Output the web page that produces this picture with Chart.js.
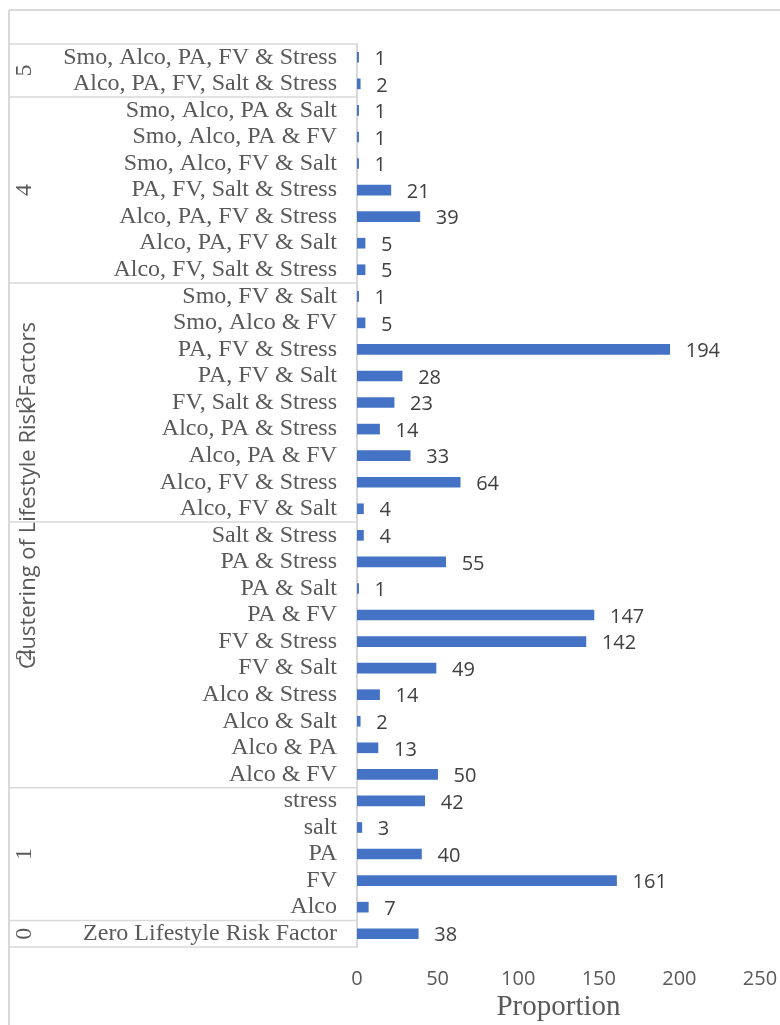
<!DOCTYPE html>
<html>
<head>
<meta charset="utf-8">
<script src="https://cdn.jsdelivr.net/npm/chart.js@4.4.1/dist/chart.umd.min.js"></script>
<style>
  html, body { margin: 0; padding: 0; background: #fff; }
  #wrap { width: 780px; height: 1025px; }
</style>
</head>
<body>
<div id="wrap"><canvas id="chart" width="780" height="1025"></canvas></div>
<script>
// categories, top to bottom
var labels = [
  "Smo, Alco, PA, FV & Stress", "Alco, PA, FV, Salt & Stress",
  "Smo, Alco, PA & Salt", "Smo, Alco, PA & FV", "Smo, Alco, FV & Salt",
  "PA, FV, Salt & Stress", "Alco, PA, FV & Stress", "Alco, PA, FV & Salt",
  "Alco, FV, Salt & Stress",
  "Smo, FV & Salt", "Smo, Alco & FV", "PA, FV & Stress", "PA, FV & Salt",
  "FV, Salt & Stress", "Alco, PA & Stress", "Alco, PA & FV", "Alco, FV & Stress",
  "Alco, FV & Salt",
  "Salt & Stress", "PA & Stress", "PA & Salt", "PA & FV", "FV & Stress",
  "FV & Salt", "Alco & Stress", "Alco & Salt", "Alco & PA", "Alco & FV",
  "stress", "salt", "PA", "FV", "Alco",
  "Zero Lifestyle Risk Factor"
];

var values = [
  1, 2,
  1, 1, 1, 21, 39, 5, 5,
  1, 5, 194, 28, 23, 14, 33, 64, 4,
  4, 55, 1, 147, 142, 49, 14, 2, 13, 50,
  42, 3, 40, 161, 7,
  38
];

// group names and how many categories each holds
var groupNames = ["5", "4", "3", "2", "1", "0"];
var groupSizes = [2, 7, 9, 10, 5, 1];

var xTicks = [0, 50, 100, 150, 200, 250];

var textColor = "#595959";
var lineColor = "#d9d9d9";

// outer frame and group boxes on the left
var groupPlugin = {
  id: "groups",
  afterDraw: function (chart) {
    var ctx = chart.ctx;
    var y = chart.scales.y;
    var area = chart.chartArea;
    ctx.save();
    ctx.strokeStyle = lineColor;
    ctx.lineWidth = 2;
    ctx.beginPath();
    ctx.moveTo(9, 10);
    ctx.lineTo(780, 10);
    ctx.moveTo(9, 10);
    ctx.lineTo(9, 1025);
    ctx.stroke();

    var half = (y.getPixelForValue(1) - y.getPixelForValue(0)) / 2;
    var start = 0;
    ctx.lineWidth = 1.5;
    ctx.beginPath();
    ctx.moveTo(9, area.top);
    ctx.lineTo(area.left, area.top);
    for (var g = 0; g < groupSizes.length; g++) {
      var end = start + groupSizes[g] - 1;
      var yb = y.getPixelForValue(end) + half;
      ctx.moveTo(9, yb);
      ctx.lineTo(area.left, yb);
      start = end + 1;
    }
    ctx.stroke();

    ctx.fillStyle = textColor;
    ctx.font = "24px 'Liberation Serif'";
    ctx.textAlign = "center";
    ctx.textBaseline = "middle";
    start = 0;
    for (var g = 0; g < groupSizes.length; g++) {
      var end = start + groupSizes[g] - 1;
      var yc = (y.getPixelForValue(start) + y.getPixelForValue(end)) / 2;
      ctx.save();
      ctx.translate(25, yc);
      ctx.rotate(-Math.PI / 2);
      ctx.fillText(groupNames[g], 0, 0);
      ctx.restore();
      start = end + 1;
    }
    ctx.restore();
  }
};

// value labels at the end of each bar
var valuePlugin = {
  id: "values",
  afterDatasetsDraw: function (chart) {
    var ctx = chart.ctx;
    var meta = chart.getDatasetMeta(0);
    ctx.save();
    ctx.fillStyle = "#404040";
    ctx.font = "20px 'Open Sans'";
    ctx.textAlign = "left";
    ctx.textBaseline = "middle";
    meta.data.forEach(function (bar, i) {
      ctx.fillText(values[i], bar.x + 16, bar.y + 2);
    });
    ctx.restore();
  }
};

new Chart(document.getElementById("chart"), {
  type: "bar",
  data: {
    labels: labels,
    datasets: [{
      data: values,
      backgroundColor: "#4472C4",
      barThickness: 10
    }]
  },
  options: {
    indexAxis: "y",
    responsive: false,
    animation: false,
    layout: { padding: { top: 44, right: 20, bottom: 0, left: 0 } },
    plugins: {
      legend: { display: false },
      tooltip: { enabled: false }
    },
    scales: {
      y: {
        grid: { display: false, drawTicks: false },
        border: { display: true, color: lineColor, width: 2 },
        afterFit: function (scale) {
          scale.width = 357;
          scale.paddingTop = 0;
          scale.paddingBottom = 0;
        },
        ticks: {
          autoSkip: false,
          padding: 20,
          color: textColor,
          font: { family: "'Liberation Serif'", size: 24 }
        },
        title: {
          display: true,
          text: "Clustering of Lifestyle Risk Factors",
          color: textColor,
          padding: { top: 16, bottom: 0 },
          font: { family: "'Open Sans'", size: 22 }
        }
      },
      x: {
        min: 0,
        max: 250,
        afterFit: function (scale) {
          scale.height = 78;
          scale.paddingLeft = 0;
          scale.paddingRight = 0;
        },
        afterBuildTicks: function (scale) {
          scale.ticks = xTicks.map(function (v) { return { value: v }; });
        },
        grid: { display: false, drawTicks: false },
        border: { display: false },
        ticks: {
          padding: 20,
          color: textColor,
          font: { family: "'Open Sans'", size: 20 }
        },
        title: {
          display: true,
          text: "Proportion",
          color: textColor,
          padding: { top: 0, bottom: 0 },
          font: { family: "'Liberation Serif'", size: 29 }
        }
      }
    }
  },
  plugins: [groupPlugin, valuePlugin]
});
</script>
</body>
</html>
